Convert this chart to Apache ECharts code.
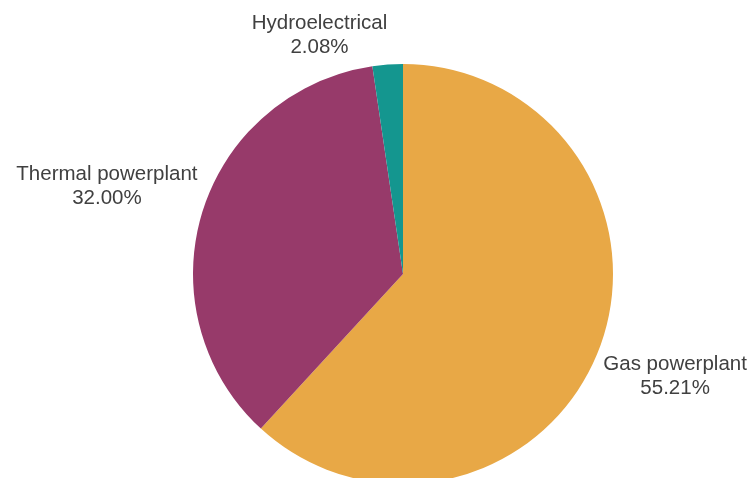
<!DOCTYPE html>
<html>
<head>
<meta charset="utf-8">
<script src="https://cdn.jsdelivr.net/npm/echarts@6/dist/echarts.min.js"></script>
<style>
  html, body { margin: 0; padding: 0; background: #ffffff; }
  #chart { width: 753px; height: 478px; }
</style>
</head>
<body>
<div id="chart"></div>
<script>
// Power generation share by source
const categories = ['Gas powerplant', 'Thermal powerplant', 'Hydroelectrical'];
const shares = [55.21, 32.00, 2.08];
const colors = ['#E8A846', '#973A6A', '#14968F'];

const CENTER = [403, 274];
const RADIUS = 210;
const LABEL_GAP = 5;

// Mid angle (radians, clockwise from 12 o'clock) of each slice
const total = shares.reduce((a, b) => a + b, 0);
const midAngles = [];
let acc = 0;
shares.forEach(v => {
  midAngles.push((acc + v / 2) / total * Math.PI * 2);
  acc += v;
});

const chart = echarts.init(document.getElementById('chart'), null, { renderer: 'canvas' });

chart.setOption({
  animation: false,
  backgroundColor: '#ffffff',
  series: [{
    type: 'pie',
    center: CENTER,
    radius: RADIUS,
    startAngle: 90,
    clockwise: true,
    data: categories.map((name, i) => ({
      name: name,
      value: shares[i],
      itemStyle: { color: colors[i] }
    })),
    itemStyle: { borderWidth: 0 },
    emphasis: { disabled: true },
    label: {
      show: true,
      position: 'outside',
      overflow: 'none',
      edgeDistance: 0,
      formatter: p => p.name + '\n' + p.value.toFixed(2) + '%',
      fontFamily: '"Liberation Sans", Arial, sans-serif',
      fontSize: 20.5,
      lineHeight: 24,
      color: '#404040',
      align: 'center'
    },
    labelLine: { show: false },
    // Put the label's nearest corner just outside the rim, at the slice's mid angle
    labelLayout: function (params) {
      const a = midAngles[params.dataIndex];
      const sx = Math.sin(a), sy = -Math.cos(a);
      const ax = CENTER[0] + (RADIUS + LABEL_GAP) * sx;
      const ay = CENTER[1] + (RADIUS + LABEL_GAP) * sy;
      const w = params.labelRect.width;
      return {
        x: ax + (sx >= 0 ? w / 2 : -w / 2),
        y: ay,
        align: 'center',
        verticalAlign: sy >= 0 ? 'top' : 'bottom'
      };
    }
  }]
});
</script>
</body>
</html>
